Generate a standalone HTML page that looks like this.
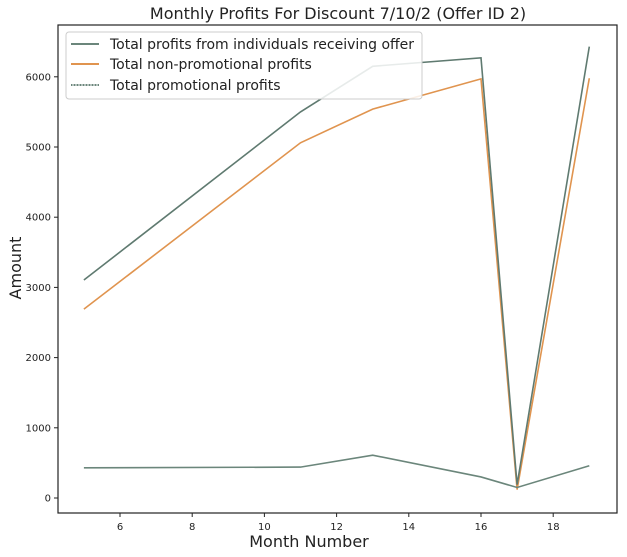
<!DOCTYPE html>
<html><head><meta charset="utf-8"><style>
body{margin:0;background:#fff}
svg{display:block;font-family:"DejaVu Sans","Liberation Sans",sans-serif}
</style></head><body>
<svg id="chart" width="627" height="557">
<text x="338" y="19" text-anchor="middle" font-size="16" fill="#222">Monthly Profits For Discount 7/10/2 (Offer ID 2)</text>
<g id="plot"></g>
<rect x="58" y="25" width="559" height="488" fill="none" stroke="#222" stroke-width="1.2"/>
<text x="309" y="547" text-anchor="middle" font-size="16" fill="#222">Month Number</text>
<text transform="translate(21,268) rotate(-90)" text-anchor="middle" font-size="16" fill="#222">Amount</text>
<g>
<rect x="66" y="32" width="356" height="67" rx="3" fill="#fff" fill-opacity="0.85" stroke="#ccc"/>
<line x1="71" y1="44" x2="99" y2="44" stroke="#6b867b" stroke-width="2"/>
<text x="110" y="49" font-size="14" fill="#222">Total profits from individuals receiving offer</text>
<line x1="71" y1="64" x2="99" y2="64" stroke="#e0944f" stroke-width="2"/>
<text x="110" y="69" font-size="14" fill="#222">Total non-promotional profits</text>
<line x1="71" y1="85" x2="99" y2="85" stroke="#6b867b" stroke-width="2" stroke-dasharray="1 0.5"/>
<text x="110" y="90" font-size="14" fill="#222">Total promotional profits</text>
</g>
</svg>
<script>
const months=[5,11,13,16,17,19];
const totalProfits=[3105,5500,6150,6270,190,6430];
const nonPromoProfits=[2690,5060,5540,5970,120,5980];
const promoProfits=[430,440,610,300,150,460];
const xTicks=[6,8,10,12,14,16,18];
const yTicks=[0,1000,2000,3000,4000,5000,6000];
const NS="http://www.w3.org/2000/svg";
const xs=m=>120+(m-6)*36.1;
const ys=v=>498-v*0.0702;
const g=document.getElementById('plot');
function mk(t,a){const e=document.createElementNS(NS,t);for(const k in a)e.setAttribute(k,a[k]);g.appendChild(e);return e;}
xTicks.forEach(t=>{
 const l=mk('line',{x1:xs(t),x2:xs(t),y1:513,y2:517,stroke:'#222'});
 
 
 const tx=mk('text',{x:xs(t),y:530,'text-anchor':'middle','font-size':10,fill:'#222'});tx.textContent=t;
 
 
});
yTicks.forEach(t=>{
 const l=mk('line',{x1:54,x2:58,y1:ys(t),y2:ys(t),stroke:'#222'});
 
 
 const tx=mk('text',{x:51,y:ys(t)+3.5,'text-anchor':'end','font-size':10,fill:'#222'});tx.textContent=t;
 
 
});
function line(vals,color,name){
 const p=mk('polyline',{points:months.map((m,i)=>xs(m)+','+ys(vals[i])).join(' '),fill:'none',stroke:color,'stroke-width':1.6});
 
 
}
line(nonPromoProfits,'#e0944f','nonpromo-line');
line(totalProfits,'#5f7a70','total-line');
line(promoProfits,'#6b867b','promo-line');
</script>
</body></html>
